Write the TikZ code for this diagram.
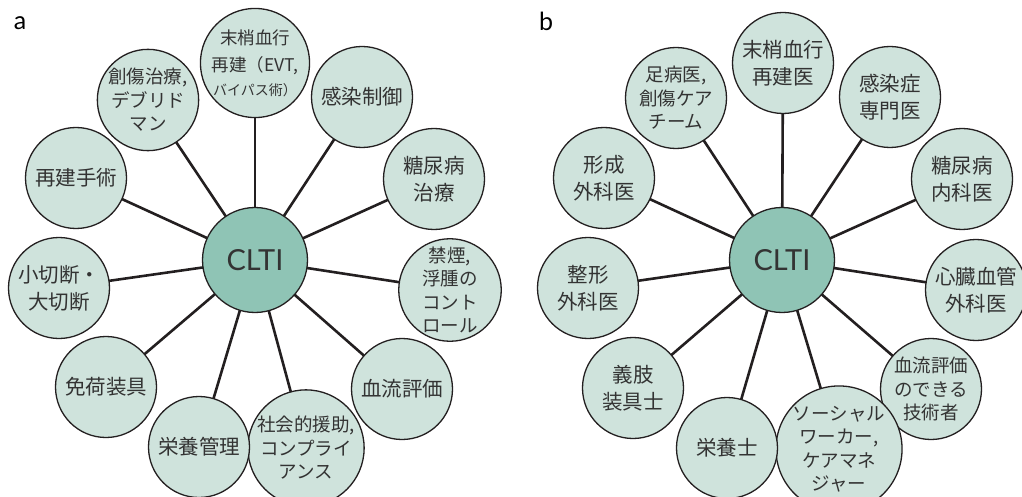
\documentclass[tikz,border=0pt]{standalone}
\usepackage{fontspec}
\setmainfont{Noto Sans CJK JP}
\newfontfamily\latinf{Lato}
\usetikzlibrary{backgrounds}
\definecolor{satc}{HTML}{CFE3DC}
\definecolor{hubc}{HTML}{8FC4B5}
\definecolor{ink}{HTML}{231F20}
\definecolor{txt}{HTML}{333333}
\begin{document}
\begin{tikzpicture}[x=1pt,y=-1pt,
  sat/.style={circle,draw=ink,line width=1.3pt,fill=satc,minimum size=101pt,inner sep=0pt,align=center,text=txt,font=\fontsize{20.5}{27}\selectfont},
  satsmall/.style={sat,font=\fontsize{18.5}{23.5}\selectfont},
  hub/.style={circle,draw=ink,line width=1.3pt,fill=hubc,minimum size=105pt,inner sep=0pt,text=txt,font=\latinf\fontsize{29}{30}\selectfont},
  link/.style={draw=ink,line width=2.6pt},
  plabel/.style={font=\latinf\fontsize{25}{26}\selectfont,text=black,inner sep=0pt}]
\clip (0,0) rectangle (1022,497);
\node[plabel] (la) at (20,23) {a};
\node[plabel] (lb) at (546,21) {b};
% panel a
\node[hub] (A0) at (255,260) {CLTI};
\node[sat] (a1) at (255,63) {\fontsize{17.5}{23}\selectfont 末梢血行\\\fontsize{17.5}{23}\selectfont 再建（EVT,\\[-3pt]\fontsize{14}{15}\selectfont バイパス術）};
\node[sat] (a2) at (362,97) {感染制御};
\node[sat] (a3) at (434,179) {糖尿病\\治療};
\node[satsmall] (a4) at (450,290) {禁煙,\\浮腫の\\コント\\ロール};
\node[sat] (a5) at (402,389) {血流評価};
\node[satsmall] (a6) at (306,448) {社会的援助,\\コンプライ\\アンス};
\node[sat] (a7) at (199,447) {栄養管理};
\node[sat] (a8) at (106,387) {免荷装具};
\node[sat] (a9) at (59,288) {小切断・\\大切断};
\node[sat] (a10) at (76,178) {再建手術};
\node[satsmall] (a11) at (148,100) {創傷治療,\\デブリド\\マン};
% panel b
\node[hub] (B0) at (782,260) {CLTI};
\node[sat] (b1) at (783,63) {末梢血行\\再建医};
\node[sat] (b2) at (890,97) {感染症\\専門医};
\node[sat] (b3) at (962,179) {糖尿病\\内科医};
\node[sat] (b4) at (976,290) {心臓血管\\外科医};
\node[satsmall] (b5) at (931,389) {血流評価\\のできる\\技術者};
\node[satsmall] (b6) at (839,449) {ソーシャル\\ワーカー,\\ケアマネ\\ジャー};
\node[sat] (b7) at (727,448) {栄養士};
\node[sat] (b8) at (633,388) {義肢\\装具士};
\node[sat] (b9) at (588,288) {整形\\外科医};
\node[sat] (b10) at (604,178) {形成\\外科医};
\node[satsmall] (b11) at (676,98) {足病医,\\創傷ケア\\チーム};
\begin{scope}[on background layer]
\fill[white] (0,0) rectangle (1022,497);
\foreach \i in {1,...,11} {
  \draw[link] (A0.center) -- (a\i.center);
  \draw[link] (B0.center) -- (b\i.center);
}
\end{scope}
\end{tikzpicture}
\end{document}
